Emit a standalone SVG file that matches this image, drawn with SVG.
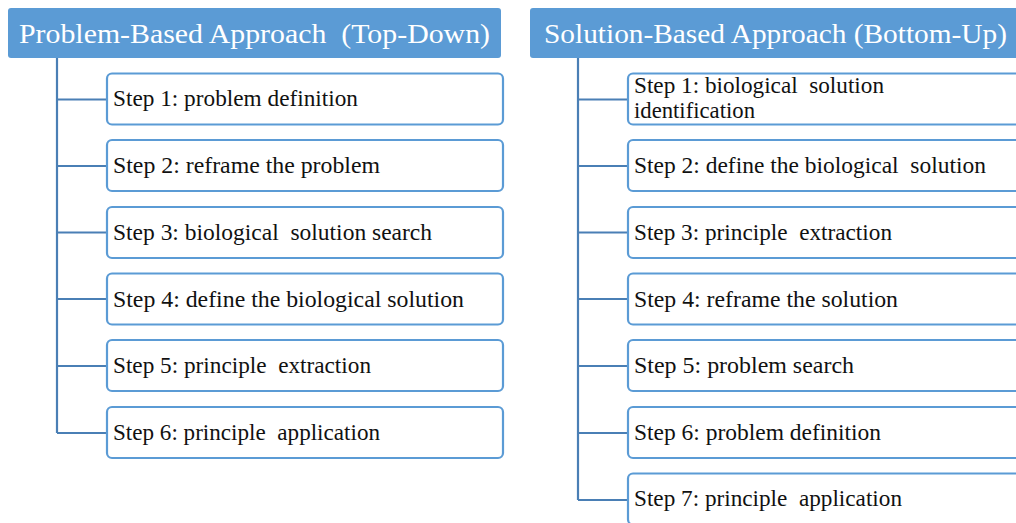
<svg xmlns="http://www.w3.org/2000/svg" width="1016" height="523" viewBox="0 0 1016 523">
  <style>
    .hdr { fill: #5b9bd5; }
    .hdr-t { font-family: "Liberation Serif", "Times New Roman", serif; font-size: 28px; fill: #ffffff; }
    .box { fill: #ffffff; stroke: #5b9bd5; stroke-width: 2.2; }
    .lbl { font-family: "Liberation Serif", "Times New Roman", serif; font-size: 23px; fill: #111111; }
    .conn { fill: none; stroke: #4a7fb5; stroke-width: 2.2; }
  </style>

  <!-- tree connectors -->
  <g id="connectors">
    <path class="conn" d="M57,58 V433 M57,99.5 H107 M57,166 H107 M57,232.5 H107 M57,299 H107 M57,366 H107 M57,433 H107"/>
    <path class="conn" d="M578,58 V500 M578,99.5 H628 M578,166 H628 M578,232.5 H628 M578,299 H628 M578,366 H628 M578,433 H628 M578,500 H628"/>
  </g>

  <!-- left column: problem-based approach -->
  <g id="hdr-left">
    <rect class="hdr" x="8" y="8" width="493" height="50" rx="3"/>
    <text class="hdr-t" x="19" y="43" textLength="471" lengthAdjust="spacingAndGlyphs" xml:space="preserve">Problem-Based Approach  (Top-Down)</text>
  </g>
  <g id="l1"><rect class="box" x="107" y="73.5" width="396" height="51" rx="5"/><text class="lbl" x="113" y="106" textLength="245" lengthAdjust="spacingAndGlyphs">Step 1: problem definition</text></g>
  <g id="l2"><rect class="box" x="107" y="140" width="396" height="51" rx="5"/><text class="lbl" x="113" y="173" textLength="267" lengthAdjust="spacingAndGlyphs">Step 2: reframe the problem</text></g>
  <g id="l3"><rect class="box" x="107" y="207" width="396" height="51" rx="5"/><text class="lbl" x="113" y="239.5" textLength="319" lengthAdjust="spacingAndGlyphs" xml:space="preserve">Step 3: biological  solution search</text></g>
  <g id="l4"><rect class="box" x="107" y="273.5" width="396" height="51" rx="5"/><text class="lbl" x="113" y="306.5" textLength="351" lengthAdjust="spacingAndGlyphs">Step 4: define the biological solution</text></g>
  <g id="l5"><rect class="box" x="107" y="340" width="396" height="51" rx="5"/><text class="lbl" x="113" y="373" textLength="258" lengthAdjust="spacingAndGlyphs" xml:space="preserve">Step 5: principle  extraction</text></g>
  <g id="l6"><rect class="box" x="107" y="407" width="396" height="51" rx="5"/><text class="lbl" x="113" y="439.5" textLength="267" lengthAdjust="spacingAndGlyphs" xml:space="preserve">Step 6: principle  application</text></g>

  <!-- right column: solution-based approach -->
  <g id="hdr-right">
    <rect class="hdr" x="530" y="8" width="500" height="50" rx="3"/>
    <text class="hdr-t" x="544" y="43" textLength="463" lengthAdjust="spacingAndGlyphs">Solution-Based Approach (Bottom-Up)</text>
  </g>
  <g id="r1"><rect class="box" x="628" y="73.5" width="400" height="51" rx="5"/><text class="lbl" x="634" y="93" textLength="250" lengthAdjust="spacingAndGlyphs" xml:space="preserve">Step 1: biological  solution</text><text class="lbl" x="634" y="118" textLength="121" lengthAdjust="spacingAndGlyphs">identification</text></g>
  <g id="r2"><rect class="box" x="628" y="140" width="400" height="51" rx="5"/><text class="lbl" x="634" y="173" textLength="352" lengthAdjust="spacingAndGlyphs" xml:space="preserve">Step 2: define the biological  solution</text></g>
  <g id="r3"><rect class="box" x="628" y="207" width="400" height="51" rx="5"/><text class="lbl" x="634" y="240" textLength="258" lengthAdjust="spacingAndGlyphs" xml:space="preserve">Step 3: principle  extraction</text></g>
  <g id="r4"><rect class="box" x="628" y="273.5" width="400" height="51" rx="5"/><text class="lbl" x="634" y="306.5" textLength="264" lengthAdjust="spacingAndGlyphs">Step 4: reframe the solution</text></g>
  <g id="r5"><rect class="box" x="628" y="340" width="400" height="51" rx="5"/><text class="lbl" x="634" y="373" textLength="220" lengthAdjust="spacingAndGlyphs">Step 5: problem search</text></g>
  <g id="r6"><rect class="box" x="628" y="407" width="400" height="51" rx="5"/><text class="lbl" x="634" y="439.5" textLength="247" lengthAdjust="spacingAndGlyphs">Step 6: problem definition</text></g>
  <g id="r7"><rect class="box" x="628" y="473.5" width="400" height="51" rx="5"/><text class="lbl" x="634" y="506" textLength="268" lengthAdjust="spacingAndGlyphs" xml:space="preserve">Step 7: principle  application</text></g>
</svg>
